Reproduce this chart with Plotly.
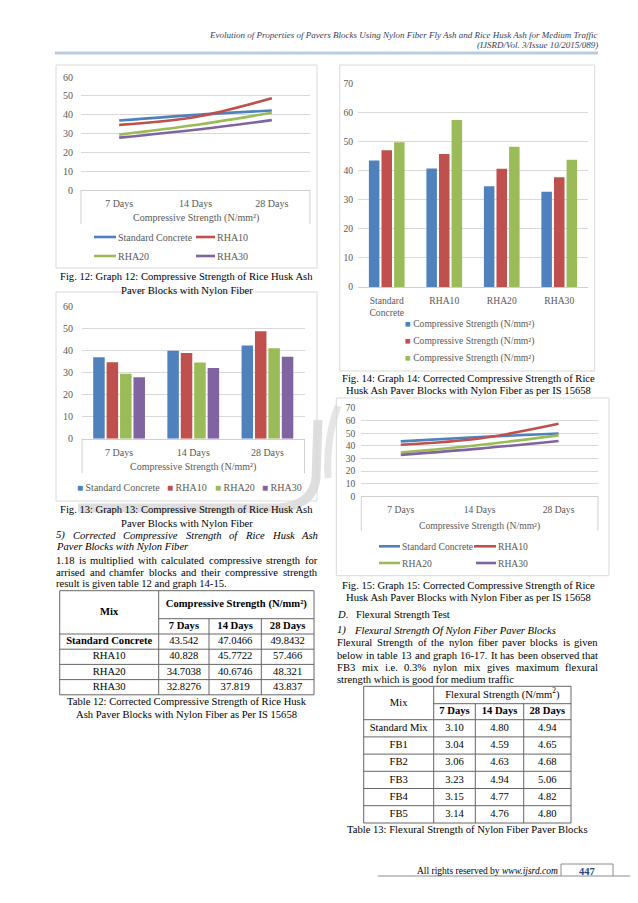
import plotly.graph_objects as go

W, H = 638, 903

# ---------------- data ----------------
days = ["7 Days", "14 Days", "28 Days"]
mixes = ["Standard Concrete", "RHA10", "RHA20", "RHA30"]

# Graph 12 / 13 : compressive strength (N/mm²)
cs_standard = [36.9, 39.9, 42.2]
cs_rha10 = [34.6, 38.8, 48.7]
cs_rha20 = [29.4, 34.5, 41.0]
cs_rha30 = [27.8, 32.0, 37.1]

# Table 12 / Graph 14 / 15 : corrected compressive strength (N/mm²)
cc_standard = [43.542, 47.0466, 49.8432]
cc_rha10 = [40.828, 45.7722, 57.466]
cc_rha20 = [34.7038, 40.6746, 48.321]
cc_rha30 = [32.8276, 37.819, 43.837]

# Table 13 : flexural strength (N/mm²)
flex_mixes = ["Standard Mix", "FB1", "FB2", "FB3", "FB4", "FB5"]
flex_7 = [3.10, 3.04, 3.06, 3.23, 3.15, 3.14]
flex_14 = [4.80, 4.59, 4.63, 4.94, 4.77, 4.76]
flex_28 = [4.94, 4.65, 4.68, 5.06, 4.82, 4.80]

series_name14 = "Compressive Strength (N/mm²)"

# page text
header_1 = "Evolution of Properties of Pavers Blocks Using Nylon Fiber Fly Ash and Rice Husk Ash for Medium Traffic"
header_2 = "(IJSRD/Vol. 3/Issue 10/2015/089)"
cap12 = ["Fig. 12: Graph 12: Compressive Strength of Rice Husk Ash", "Paver Blocks with Nylon Fiber"]
cap13 = ["Fig. 13: Graph 13: Compressive Strength of Rice Husk Ash", "Paver Blocks with Nylon Fiber"]
cap14 = ["Fig. 14: Graph 14: Corrected Compressive Strength of Rice", "Husk Ash Paver Blocks with Nylon Fiber as per IS 15658"]
cap15 = ["Fig. 15: Graph 15: Corrected Compressive Strength of Rice", "Husk Ash Paver Blocks with Nylon Fiber as per IS 15658"]
capT12 = ["Table 12: Corrected Compressive Strength of Rice Husk", "Ash Paver Blocks with Nylon Fiber as Per IS 15658"]
capT13 = ["Table 13: Flexural Strength of Nylon Fiber Paver Blocks"]
left_head = ["5) Corrected Compressive Strength of Rice Husk Ash", "Paver Blocks with Nylon Fiber"]
left_body = ["1.18 is multiplied with calculated compressive strength for",
             "arrised and chamfer blocks and their compressive strength",
             "result is given table 12 and graph 14-15."]
right_body = ["Flexural Strength of the nylon fiber paver blocks is given",
              "below in table 13 and graph 16-17. It has been observed that",
              "FB3 mix i.e. 0.3% nylon mix gives maximum flexural",
              "strength which is good for medium traffic"]

# ---------------- style ----------------
COLORS = ["#4F81BD", "#C0504D", "#9BBB59", "#8064A2"]
SERIF = "Liberation Serif"
GRAY = "#595959"
GRID = "#d9d9d9"
FS = 10.6
CF = 10.0   # chart font (graphs 12/13)
CF2 = 9.6   # chart font (graphs 14/15)

def X(px):
    return px / W

def Y(py):
    return 1 - py / H

# Times metrics (per 1000 em) to justify lines
LOW = "abcdefghijklmnopqrstuvwxyz"
UP = "ABCDEFGHIJKLMNOPQRSTUVWXYZ"
R_W = dict(zip(LOW, [444, 500, 444, 500, 444, 333, 500, 500, 278, 278, 500, 278, 778, 500, 500, 500, 500, 333, 389, 278, 500, 500, 722, 500, 500, 444]))
R_W.update(zip(UP, [722, 667, 667, 722, 611, 556, 722, 722, 333, 389, 722, 611, 889, 722, 722, 556, 722, 667, 556, 611, 722, 722, 944, 722, 722, 611]))
R_W.update({c: 500 for c in "0123456789"})
R_W.update({" ": 250, ".": 250, ",": 250, "-": 333, "(": 333, ")": 333, "/": 278, ":": 278, "%": 833})
I_W = dict(zip(LOW, [500, 500, 444, 500, 444, 278, 500, 500, 278, 278, 444, 278, 722, 500, 500, 500, 500, 389, 389, 278, 500, 444, 667, 444, 444, 389]))
I_W.update(zip(UP, [611, 611, 667, 722, 611, 611, 722, 722, 333, 444, 667, 556, 833, 667, 722, 611, 722, 611, 500, 556, 722, 611, 833, 611, 556, 556]))
I_W.update({c: 500 for c in "0123456789"})
I_W.update({" ": 250, ".": 250, ",": 250, "-": 333, "(": 333, ")": 333, "/": 278, ":": 333, "%": 833})


def tw(s, size, italic=False):
    t = I_W if italic else R_W
    return sum(t.get(c, 500) for c in s) * size / 1000.0


annotations = []
shapes = []


def note(text, x, y, size=FS, anchor="left", color="black"):
    annotations.append(dict(text=text, x=x, y=y, xref="x5", yref="y5", xanchor=anchor,
                            yanchor="middle", showarrow=False, borderpad=0, borderwidth=0,
                            font=dict(family=SERIF, size=size, color=color)))


def justify(line, x0, x1, y, size=FS, italic=False):
    words = line.split(" ")
    widths = [tw(w, size, italic) for w in words]
    gap = (x1 - x0 - sum(widths)) / max(len(words) - 1, 1)
    x = x0
    for wd, w in zip(words, widths):
        note("<i>%s</i>" % wd if italic else wd, x, y, size=size)
        x += w + gap


def seg(x0, y0, x1, y1, color="#666666", width=1, xref="x5", yref="y5"):
    shapes.append(dict(type="line", xref=xref, yref=yref, x0=x0, y0=y0, x1=x1, y1=y1,
                       line=dict(color=color, width=width)))


def box(x0, y0, x1, y1, color="#d9d9d9", width=1):
    shapes.append(dict(type="rect", xref="x5", yref="y5", x0=x0, y0=y0, x1=x1, y1=y1,
                       line=dict(color=color, width=width), fillcolor="rgba(0,0,0,0)"))


fig = go.Figure()

# ---------------- Graph 12 (lines) ----------------
series_cs = [cs_standard, cs_rha10, cs_rha20, cs_rha30]
for name, vals, col in zip(mixes, series_cs, COLORS):
    fig.add_trace(go.Scatter(x=days, y=vals, name=name, mode="lines",
                             line=dict(color=col, width=2.6, shape="spline", smoothing=0.9),
                             xaxis="x", yaxis="y", showlegend=False, hoverinfo="skip"))

# ---------------- Graph 13 (bars) ----------------
BW13, BP13 = 0.155, 0.181
for i, (name, vals, col) in enumerate(zip(mixes, series_cs, COLORS)):
    fig.add_trace(go.Bar(x=days, y=vals, name=name, marker=dict(color=col, line=dict(width=0)),
                         width=BW13, offset=(i - 1.5) * BP13 - BW13 / 2,
                         xaxis="x2", yaxis="y2", showlegend=False, hoverinfo="skip"))

# ---------------- Graph 14 (bars) ----------------
series_cc = [cc_standard, cc_rha10, cc_rha20, cc_rha30]
BW14, BP14 = 0.183, 0.219
for d in range(len(days)):
    fig.add_trace(go.Bar(x=mixes, y=[s[d] for s in series_cc], name=series_name14,
                         marker=dict(color=COLORS[d], line=dict(width=0)),
                         width=BW14, offset=(d - 1) * BP14 - BW14 / 2,
                         xaxis="x3", yaxis="y3", showlegend=False, hoverinfo="skip"))

# ---------------- Graph 15 (lines) ----------------
for name, vals, col in zip(mixes, series_cc, COLORS):
    fig.add_trace(go.Scatter(x=days, y=vals, name=name, mode="lines",
                             line=dict(color=col, width=2.6, shape="spline", smoothing=0.9),
                             xaxis="x4", yaxis="y4", showlegend=False, hoverinfo="skip"))

# ---------------- Tables (text through page axis, px coordinates) ----------------
def table_text(xs, ys, texts, size=FS):
    fig.add_trace(go.Scatter(x=xs, y=ys, text=texts, mode="text", textposition="middle center",
                             textfont=dict(family=SERIF, size=size, color="black"),
                             xaxis="x5", yaxis="y5", showlegend=False, hoverinfo="skip",
                             cliponaxis=False))

def mid(a, b):
    return (a + b) / 2

# Table 12
t12x = [51.7, 150.7, 201.0, 253.3, 306.0]
t12y = [582.7, 610.7, 626.0, 641.2, 656.4, 671.6, 686.8]
tx, ty, tt = [], [], []
tx.append(mid(t12x[0], t12x[1])); ty.append(mid(t12y[0], t12y[2])); tt.append("<b>Mix</b>")
tx.append(mid(t12x[1], t12x[4])); ty.append(mid(t12y[0], t12y[1])); tt.append("<b>Compressive Strength (N/mm²)</b>")
for j, dname in enumerate(days):
    tx.append(mid(t12x[j + 1], t12x[j + 2])); ty.append(mid(t12y[1], t12y[2])); tt.append("<b>%s</b>" % dname)
for i, (mname, vals) in enumerate(zip(mixes, series_cc)):
    yc = mid(t12y[i + 2], t12y[i + 3])
    tx.append(mid(t12x[0], t12x[1])); ty.append(yc)
    tt.append("<b>%s</b>" % mname if i == 0 else mname)
    for j, v in enumerate(vals):
        tx.append(mid(t12x[j + 1], t12x[j + 2])); ty.append(yc); tt.append(str(v))
table_text(tx, ty, tt)
box(t12x[0], t12y[0], t12x[4], t12y[-1], color="#666666")
seg(t12x[1], t12y[0], t12x[1], t12y[-1])
for xv in t12x[2:4]:
    seg(xv, t12y[1], xv, t12y[-1])
seg(t12x[1], t12y[1], t12x[4], t12y[1])
for yv in t12y[2:-1]:
    seg(t12x[0], yv, t12x[4], yv)

# Table 13
t13x = [355.7, 425.7, 467.3, 515.7, 563.0]
t13y = [678.3, 695.7, 711.7, 728.9, 746.1, 763.3, 780.5, 797.7, 815.0]
tx, ty, tt = [], [], []
tx.append(mid(t13x[0], t13x[1])); ty.append(mid(t13y[0], t13y[2])); tt.append("Mix")
tx.append(mid(t13x[1], t13x[4])); ty.append(mid(t13y[0], t13y[1])); tt.append("Flexural Strength (N/mm<sup>2</sup>)")
for j, dname in enumerate(days):
    tx.append(mid(t13x[j + 1], t13x[j + 2])); ty.append(mid(t13y[1], t13y[2])); tt.append("<b>%s</b>" % dname)
for i, mname in enumerate(flex_mixes):
    yc = mid(t13y[i + 2], t13y[i + 3])
    tx.append(mid(t13x[0], t13x[1])); ty.append(yc); tt.append(mname)
    for j, col in enumerate([flex_7, flex_14, flex_28]):
        tx.append(mid(t13x[j + 1], t13x[j + 2])); ty.append(yc); tt.append("%.2f" % col[i])
table_text(tx, ty, tt)
box(t13x[0], t13y[0], t13x[4], t13y[-1], color="#666666")
seg(t13x[1], t13y[0], t13x[1], t13y[-1])
for xv in t13x[2:4]:
    seg(xv, t13y[1], xv, t13y[-1])
seg(t13x[1], t13y[1], t13x[4], t13y[1])
for yv in t13y[2:-1]:
    seg(t13x[0], yv, t13x[4], yv)

# ---------------- faint watermark (behind everything) ----------------
shapes.append(dict(type="path", xref="x5", yref="y5", layer="below",
                   path="M 70 500 L 270 500 Q 305 498 308 470 L 310 412",
                   line=dict(color="rgba(160,160,160,0.35)", width=9)))
shapes.append(dict(type="path", xref="x5", yref="y5", layer="below",
                   path="M 330 398 Q 318 430 320 470",
                   line=dict(color="rgba(170,170,170,0.3)", width=7)))

# ---------------- chart frames & decorations ----------------
box(48, 57, 309, 260)
box(48, 284, 309, 493)
box(331.7, 57, 586.7, 363)
box(328.3, 390, 601, 567.7)

for ax, depth in [("", 0.30), ("2", 0.26), ("4", 0.39)]:
    for xv in (0, 1):
        seg(xv, 0, xv, -depth, color="#d0d0d0", xref="x%s domain" % ax, yref="y%s domain" % ax)

# group labels under category axes
note("Compressive Strength (N/mm²)", 188, 210, size=CF, anchor="center", color=GRAY)
note("Compressive Strength (N/mm²)", 185, 459, size=CF, anchor="center", color=GRAY)
note("Compressive Strength (N/mm²)", 471, 518.3, size=CF2, anchor="center", color=GRAY)

# legends
def line_key(x0, x1, y, col, label, tx, size):
    seg(x0, y, x1, y, color=col, width=2.6)
    note(label, tx, y, size=size, color=GRAY)

line_key(86, 108, 229, COLORS[0], mixes[0], 110, CF)
line_key(188, 207, 229, COLORS[1], mixes[1], 209, CF)
line_key(86, 108, 248, COLORS[2], mixes[2], 110, CF)
line_key(188, 207, 248, COLORS[3], mixes[3], 209, CF)

for xk, name, col in zip([69, 159, 207, 254], mixes, COLORS):
    note("<span style='color:%s'>■</span> %s" % (col, name), xk, 479.3, size=CF, color=GRAY)

for yk, col in zip([316, 333, 350], COLORS[:3]):
    note("<span style='color:%s'>■</span> %s" % (col, series_name14), 396.5, yk, size=CF2, color=GRAY)

line_key(371, 392, 538.3, COLORS[0], mixes[0], 394, CF2)
line_key(466, 488, 538.3, COLORS[1], mixes[1], 490, CF2)
line_key(371, 392, 555, COLORS[2], mixes[2], 394, CF2)
line_key(468, 488, 555, COLORS[3], mixes[3], 490, CF2)

# ---------------- page text ----------------
note("<i>%s</i>" % header_1, 590, 26.5, size=9, anchor="right", color="#34405a")
note("<i>%s</i>" % header_2, 590, 37, size=9, anchor="right", color="#34405a")
seg(47, 45, 590, 45, color="#bccbdb", width=3)

for k, t in enumerate(cap12):
    note(t, 178.5, 268 + 14 * k, anchor="center")
for k, t in enumerate(cap13):
    note(t, 178.5, 501 + 14 * k, anchor="center")
for k, t in enumerate(cap14):
    note(t, 460, 370.5 + 12 * k, anchor="center")
for k, t in enumerate(cap15):
    note(t, 460, 577 + 12 * k, anchor="center")
for k, t in enumerate(capT12):
    note(t, 178.5, 693.3 + 13.4 * k, anchor="center")
note(capT13[0], 459, 821, anchor="center")

justify(left_head[0], 48, 309, 527, italic=True)
note("<i>%s</i>" % left_head[1], 48, 538.5)
justify(left_body[0], 48, 309, 552.3)
justify(left_body[1], 48, 309, 564)
note(left_body[2], 48, 575.7)

note("<i>D.</i>", 329, 606)
note("Flexural Strength Test", 347.7, 606)
note("<i>1)</i>", 329, 622.3)
note("<i>Flexural Strength Of Nylon Fiber Paver Blocks</i>", 345.7, 622.3)
justify(right_body[0], 329, 590, 634.3)
justify(right_body[1], 329, 590, 647.3)
justify(right_body[2], 329, 590, 659.3)
note(right_body[3], 329, 671)

# footer
note("All rights reserved by <i>www.ijsrd.com</i>", 550, 863, size=9.5, anchor="right")
note("<b>447</b>", 579, 863, size=10.5, anchor="center", color="#1F497D")
seg(553, 856, 605, 856, color="#8c8c8c")
seg(553, 856, 553, 868, color="#8c8c8c")
seg(605, 856, 605, 868, color="#8c8c8c")
seg(370, 868, 632, 868, color="#8c8c8c")

# ---------------- axes ----------------
def xcat(domain, anchor, n, fs, standoff):
    return dict(domain=domain, anchor=anchor, type="category", range=[-0.5, n - 0.5],
                showgrid=False, showline=True, linecolor="#d0d0d0", linewidth=1, zeroline=False,
                ticks="", tickfont=dict(family=SERIF, size=fs, color=GRAY),
                ticklabelstandoff=standoff, automargin=False, fixedrange=True)

def yval(domain, anchor, top, fs, standoff):
    return dict(domain=domain, anchor=anchor, range=[0, top], tick0=0, dtick=10,
                showgrid=True, gridcolor=GRID, gridwidth=1, zeroline=False, showline=False,
                ticks="", tickfont=dict(family=SERIF, size=fs, color=GRAY),
                ticklabelstandoff=standoff, automargin=False, fixedrange=True)

fig.update_layout(
    width=W, height=H, template="none", showlegend=False, hovermode=False,
    margin=dict(l=0, r=0, t=0, b=0), paper_bgcolor="white", plot_bgcolor="rgba(0,0,0,0)",
    barmode="overlay",
    xaxis=xcat([X(73), X(302)], "y", 3, CF, 4),
    yaxis=yval([Y(182), Y(69)], "x", 60, CF, 7),
    xaxis2=xcat([X(74), X(296.5)], "y2", 3, CF, 4),
    yaxis2=yval([Y(430.7), Y(298.3)], "x2", 60, CF, 8),
    xaxis3=dict(xcat([X(350), X(580)], "y3", 4, CF2, 4),
                tickvals=mixes, ticktext=["Standard<br>Concrete"] + mixes[1:]),
    yaxis3=yval([Y(279), Y(75.7)], "x3", 70, CF2, 4),
    xaxis4=xcat([X(353.3), X(590)], "y4", 3, CF2, 4),
    yaxis4=yval([Y(488.3), Y(400)], "x4", 70, CF2, 5),
    xaxis5=dict(domain=[0, 1], anchor="y5", range=[0, W], visible=False, fixedrange=True),
    yaxis5=dict(domain=[0, 1], anchor="x5", range=[H, 0], visible=False, fixedrange=True),
    annotations=annotations, shapes=shapes,
)

fig.write_html("out.html")
